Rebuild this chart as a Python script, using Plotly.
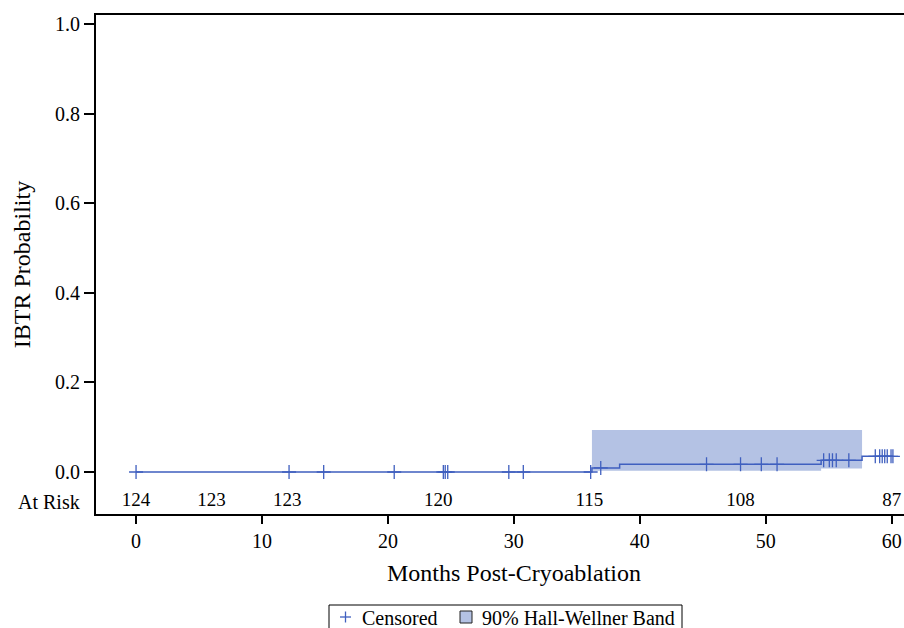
import numpy as np
import plotly.graph_objects as go

# ---- data ----
step_times = [0.0, 36.2, 38.4, 54.4, 57.65, 60.1]
step_probs = [0.0, 0.009, 0.017, 0.026, 0.035, 0.035]

censor_times = [0.0, 12.15, 14.9, 20.5, 24.4, 24.55, 24.75, 29.6, 30.75, 36.1, 36.9,
                45.3, 48.0, 49.65, 50.9, 54.6, 55.05, 55.3, 55.6, 56.6,
                58.7, 59.05, 59.25, 59.45, 59.65, 59.95, 60.1]

band_times = [36.2, 38.4, 54.4, 57.65]
band_lower = [0.003, 0.003, 0.008, 0.008]
band_upper = [0.094, 0.094, 0.094, 0.094]

risk_times = [0, 6, 12, 24, 36, 48, 60]
risk_counts = [124, 123, 123, 120, 115, 108, 87]

y_ticks = [0.0, 0.2, 0.4, 0.6, 0.8, 1.0]
x_ticks = [0, 10, 20, 30, 40, 50, 60]

legend_labels = ["Censored", "90% Hall-Wellner Band"]
x_title = "Months Post-Cryoablation"
y_title = "IBTR Probability"

LINE = "#3F5FBF"
FILL = "#B4C2E4"
FONT = "Liberation Serif"

W, H = 904, 628
ML, MR, MT, MB = 96, 0, 15, 114
PW, PH = W - ML - MR, H - MT - MB


def px(xp):
    return (xp - ML) / PW


def py(yp):
    return (H - MB - yp) / PH


def level_at(t):
    lvl = step_probs[0]
    for st, sp in zip(step_times, step_probs):
        if t >= st:
            lvl = sp
    return lvl


censor_y = [level_at(t) for t in censor_times]

fig = go.Figure()

# Hall-Wellner band
fig.add_trace(go.Scatter(x=band_times, y=band_upper, mode="lines", line=dict(width=0, shape="hv"),
                         showlegend=False, hoverinfo="skip"))
fig.add_trace(go.Scatter(x=band_times, y=band_lower, mode="lines", line=dict(width=0, shape="hv"),
                         fill="tonexty", fillcolor=FILL, showlegend=False, hoverinfo="skip"))

# KM curve
fig.add_trace(go.Scatter(x=step_times, y=step_probs, mode="lines",
                         line=dict(color=LINE, width=1.5, shape="hv"), showlegend=False))

# Censored marks
fig.add_trace(go.Scatter(x=censor_times, y=censor_y, mode="markers", name=legend_labels[0],
                         showlegend=False,
                         marker=dict(symbol="cross-thin", size=10, line=dict(color=LINE, width=1.3))))

# At-risk counts
fig.add_trace(go.Scatter(x=risk_times, y=[-0.066] * len(risk_times), mode="text",
                         text=[str(v) for v in risk_counts], textposition="middle center",
                         textfont=dict(family=FONT, size=19, color="black"),
                         showlegend=False, hoverinfo="skip", cliponaxis=False))

fig.add_annotation(x=-0.0175, xref="paper", y=-0.066, yref="y", text="At Risk",
                   showarrow=False, xanchor="right", yanchor="middle",
                   font=dict(family=FONT, size=20, color="black"))

# x-axis title (slightly right of plot centre, as in the reference)
fig.add_annotation(x=px(514), xref="paper", y=py(573), yref="paper", text=x_title,
                   showarrow=False, xanchor="center", yanchor="middle",
                   font=dict(family=FONT, size=24, color="black"))

# ---- legend (drawn below the plot, box runs off the bottom like the reference) ----
shapes = []
shapes.append(dict(type="rect", xref="paper", yref="paper", x0=px(329), x1=px(682),
                   y0=py(640), y1=py(605), line=dict(color="black", width=1), fillcolor="white",
                   layer="above"))
# plus symbol
shapes.append(dict(type="line", xref="paper", yref="paper", x0=px(340), x1=px(351),
                   y0=py(617), y1=py(617), line=dict(color=LINE, width=1.3), layer="above"))
shapes.append(dict(type="line", xref="paper", yref="paper", x0=px(345.5), x1=px(345.5),
                   y0=py(611.5), y1=py(622.5), line=dict(color=LINE, width=1.3), layer="above"))
# square symbol
shapes.append(dict(type="rect", xref="paper", yref="paper", x0=px(460), x1=px(472),
                   y0=py(623), y1=py(611), line=dict(color="#222222", width=1), fillcolor=FILL,
                   layer="above"))

fig.add_annotation(x=px(360), xref="paper", y=py(617.5), yref="paper", text=legend_labels[0],
                   showarrow=False, xanchor="left", yanchor="middle",
                   font=dict(family=FONT, size=20, color="black"))
fig.add_annotation(x=px(480), xref="paper", y=py(617.5), yref="paper", text=legend_labels[1],
                   showarrow=False, xanchor="left", yanchor="middle",
                   font=dict(family=FONT, size=20, color="black"))

fig.update_layout(
    width=W, height=H,
    margin=dict(l=ML, r=MR, t=MT, b=MB, autoexpand=False),
    plot_bgcolor="white", paper_bgcolor="white",
    font=dict(family=FONT, size=20, color="black"),
    showlegend=False,
    shapes=shapes,
)

fig.update_xaxes(range=[-3.18, 60.98], tickvals=x_ticks, ticks="outside", ticklen=8, tickwidth=2,
                 tickcolor="black", showline=True, linecolor="black", linewidth=2, mirror=True,
                 showgrid=False, zeroline=False,
                 tickfont=dict(family=FONT, size=20))

fig.update_yaxes(range=[-0.0939, 1.0212], tickvals=y_ticks, ticktext=[f"{v:.1f}" for v in y_ticks],
                 ticks="outside", ticklen=10, tickwidth=2, tickcolor="black",
                 showline=True, linecolor="black", linewidth=2, mirror=False,
                 showgrid=False, zeroline=False,
                 tickfont=dict(family=FONT, size=20),
                 title=dict(text=y_title, font=dict(family=FONT, size=24), standoff=18))

fig.write_html("out.html", config={"displayModeBar": False},
               post_script="document.body.style.margin='0';document.body.style.overflow='hidden';")
